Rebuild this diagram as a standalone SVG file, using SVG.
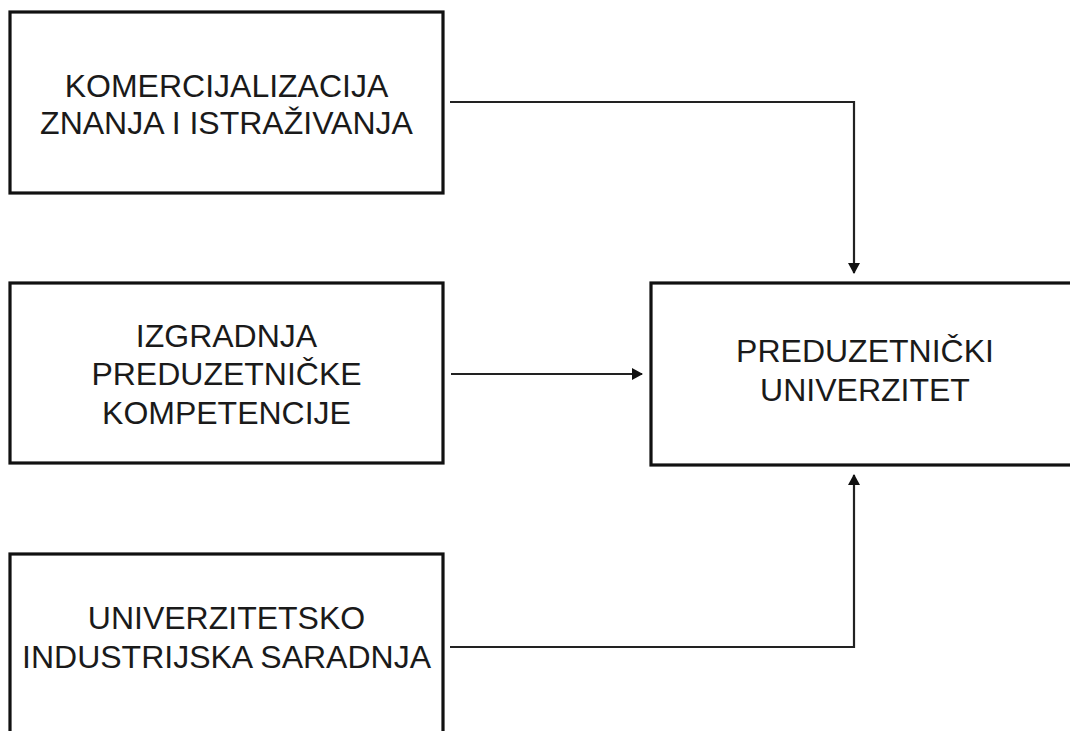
<svg xmlns="http://www.w3.org/2000/svg" width="1070" height="731" viewBox="0 0 1070 731">
<style>
.box{fill:#fff;stroke:#111;stroke-width:3.2}
.lbl{font-family:"Liberation Sans",Arial,sans-serif;font-size:32px;fill:#1a1a1a;text-anchor:middle}
.con{fill:none;stroke:#222;stroke-width:2.2}
</style>
<defs>
<marker id="arr" markerWidth="12" markerHeight="12" refX="10" refY="6" orient="auto" markerUnits="userSpaceOnUse">
<path d="M0,0 L11,6 L0,12 Z" fill="#111"/>
</marker>
</defs>
<rect width="1070" height="731" fill="#fff"/>
<g id="n1">
<rect class="box" x="10" y="12" width="433" height="181"/>
<text class="lbl" x="226.5" y="97">KOMERCIJALIZACIJA</text>
<text class="lbl" x="226.5" y="134">ZNANJA I ISTRAŽIVANJA</text>
</g>
<g id="n2">
<rect class="box" x="10" y="283" width="433" height="180"/>
<text class="lbl" x="226.5" y="347">IZGRADNJA</text>
<text class="lbl" x="226.5" y="385">PREDUZETNIČKE</text>
<text class="lbl" x="226.5" y="424">KOMPETENCIJE</text>
</g>
<g id="n3">
<rect class="box" x="10" y="554" width="433" height="200"/>
<text class="lbl" x="226.5" y="629">UNIVERZITETSKO</text>
<text class="lbl" x="226.5" y="668">INDUSTRIJSKA SARADNJA</text>
</g>
<g id="n4">
<rect class="box" x="651" y="283" width="430" height="182"/>
<text class="lbl" x="865" y="362">PREDUZETNIČKI</text>
<text class="lbl" x="865" y="401">UNIVERZITET</text>
</g>
<g id="connectors">
<path class="con" d="M450,102 H854 V273" marker-end="url(#arr)"/>
<path class="con" d="M451,374 H642" marker-end="url(#arr)"/>
<path class="con" d="M450,647 H854 V475" marker-end="url(#arr)"/>
</g>
</svg>
